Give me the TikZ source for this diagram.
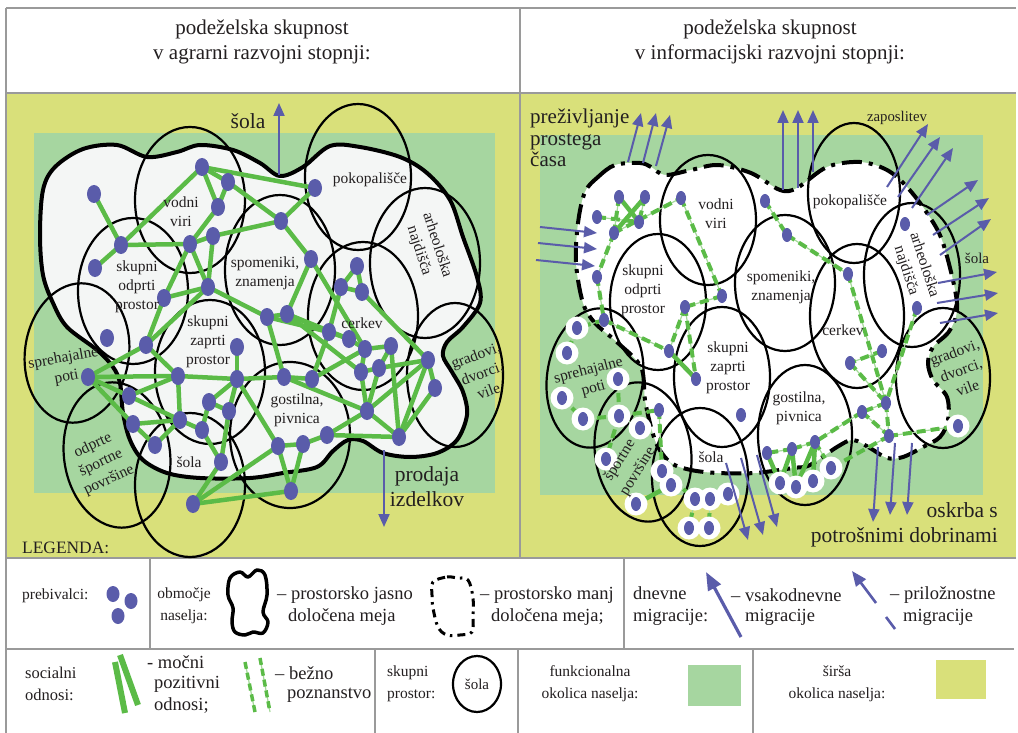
\documentclass[tikz,border=0pt]{standalone}
\usepackage{fontspec}
\setmainfont{Liberation Serif}
\usetikzlibrary{arrows.meta,shapes.geometric}
\definecolor{ybg}{HTML}{D9E07A}
\definecolor{gbg}{HTML}{A6D6A0}
\definecolor{dotb}{HTML}{5A5CAA}
\definecolor{edg}{HTML}{5BBB47}
\definecolor{lgr}{HTML}{9A9A9A}
\definecolor{setl}{HTML}{F4F6F5}
\definecolor{txt}{HTML}{231F20}
\tikzset{
 frameline/.style={draw=lgr, line width=1.2pt},
 sp/.style={draw=black, line width=2.2pt},
 bound/.style={draw=black, line width=4pt, line join=round},
 dbound/.style={draw=black, line width=4pt, dash pattern=on 20pt off 7pt on 4pt off 7pt},
 strong/.style={draw=edg, line width=4.5pt},
 weakbase/.style={draw=edg!55, line width=1.2pt},
 weakdash/.style={draw=edg, line width=4pt, dash pattern=on 9pt off 5pt},
 ldot/.style={ellipse, fill=dotb, minimum width=14pt, minimum height=18pt, inner sep=0pt},
 rdot/.style={ellipse, fill=dotb, minimum width=10pt, minimum height=14pt, inner sep=0pt},
 halo/.style={circle, fill=white, minimum size=23pt, inner sep=0pt},
 mig/.style={draw=dotb, line width=2pt, -{Triangle[length=13pt,width=11pt]}},
 lab/.style={font=\fontsize{15.5}{19}\selectfont, align=center, inner sep=0pt, text=txt},
 bigt/.style={font=\fontsize{21}{25}\selectfont, align=center, inner sep=0pt, text=txt},
 bigl/.style={font=\fontsize{21.5}{25}\selectfont, align=center, inner sep=0pt, text=txt},
 legA/.style={font=\fontsize{15.5}{22}\selectfont, align=left, inner sep=0pt, text=txt},
 legB/.style={font=\fontsize{18.5}{22}\selectfont, inner sep=0pt, anchor=west, text=txt},
}
\begin{document}
\begin{tikzpicture}[x=1pt,y=-1pt]
\useasboundingbox (0,0) rectangle (1018,733);
\fill[white] (0,0) rectangle (1018,733);
% panels
\fill[ybg] (6,93) rectangle (1016,558);
\fill[gbg] (34,133) rectangle (495,493);
\fill[gbg] (540,135) rectangle (983,495);
% frame
\draw[frameline] (6,8) -- (1016,8);
\draw[frameline] (6,8) -- (6,733);
\draw[frameline] (6,93) -- (1016,93);
\draw[frameline] (520,8) -- (520,558);
\draw[frameline] (6,558) -- (1016,558);
\draw[frameline] (6,649) -- (1014,649);
\draw[frameline] (150,558) -- (150,649);
\draw[frameline] (624,558) -- (624,649);
\draw[frameline] (375,649) -- (375,733);
\draw[frameline] (518,649) -- (518,733);
\draw[frameline] (753,649) -- (753,733);
% header
\node[bigt] (h1) at (262,42) {podeželska skupnost\\v agrarni razvojni stopnji:};
\node[bigt] (h2) at (770,42) {podeželska skupnost\\v informacijski razvojni stopnji:};

%================ LEFT PANEL =================
\draw[bound, fill=setl] plot[smooth cycle, tension=0.55] coordinates {
(43,190) (55,167) (83,149) (117,145) (147,157) (177,152) (200,145) (233,150) (260,163) (280,176) (303,167) (330,146) (360,147) (400,157) (427,173) (450,200) (463,237) (477,277) (480,303) (463,327) (447,342) (443,356) (452,372) (463,392) (467,415) (457,440) (437,453) (410,457) (383,453) (363,441) (348,440) (333,451) (317,467) (283,473) (250,478) (200,478) (167,473) (143,460) (130,440) (123,413) (120,383) (113,367) (97,350) (67,327) (53,303) (43,275) (40,235)};

\draw[sp] (190,200) ellipse [x radius=55, y radius=73];
\draw[sp] (133,291) ellipse [x radius=55, y radius=73];
\draw[sp] (280,270) ellipse [x radius=55, y radius=75];
\draw[sp] (358,177) ellipse [x radius=53, y radius=73];
\draw[sp] (425,263) ellipse [x radius=55, y radius=75];
\draw[sp] (363,316) ellipse [x radius=55, y radius=74];
\draw[sp] (210,372) ellipse [x radius=55, y radius=72];
\draw[sp] (290,435) ellipse [x radius=60, y radius=73];
\draw[sp] (455,375) ellipse [x radius=48, y radius=72];
\draw[sp, rotate around={-8:(77,353)}] (77,353) ellipse [x radius=52, y radius=70];
\draw[sp, rotate around={8:(117,455)}] (117,455) ellipse [x radius=53, y radius=73];
\draw[sp] (190,485) ellipse [x radius=55, y radius=72];

\foreach \n/\x/\y in {1/94/194, 2/202/167, 3/228/182, 4/218/207, 5/121/245, 6/190/244, 7/213/236, 8/95/268, 9/208/287, 10/164/298, 11/315/188, 12/281/221, 13/311/259, 14/357/266, 15/341/287, 16/362/292, 17/267/317, 18/287/314, 19/107/338, 20/146/345, 21/237/347, 22/88/377, 23/178/376, 24/237/379, 25/129/396, 26/209/402, 27/229/411, 28/180/420, 29/133/424, 30/202/430, 31/155/445, 32/221/462, 33/193/504, 34/329/332, 35/349/339, 36/365/349, 37/391/346, 38/361/372, 39/379/368, 40/428/360, 41/435/388, 42/284/377, 43/312/379, 44/367/411, 45/399/437, 46/278/446, 47/303/444, 48/327/435, 49/291/491}
  \coordinate (L\n) at (\x,\y);

\foreach \a/\b in {1/5, 5/8, 5/6, 5/2, 2/3, 2/4, 3/4, 2/11, 3/12, 4/6, 6/7, 7/12, 7/9, 6/9, 6/10, 10/9, 9/17, 10/20, 11/12, 12/13, 13/18, 14/15, 14/16, 15/16, 15/34, 16/40, 17/18, 17/34, 18/34, 18/38, 34/35, 35/36, 36/37, 37/39, 36/38, 38/39, 37/45, 39/44, 38/44, 40/41, 40/44, 40/45, 41/45, 44/45, 44/48, 48/47, 47/46, 46/49, 47/49, 48/45, 42/43, 43/34, 42/17, 22/20, 22/23, 22/25, 22/29, 20/23, 20/9, 23/24, 23/25, 23/28, 21/24, 24/26, 24/27, 24/42, 25/28, 29/28, 29/31, 31/28, 28/30, 30/26, 30/32, 27/32, 26/27, 33/32, 33/49, 33/46, 24/46, 43/36, 42/44, 18/35, 13/36, 39/40}
  \draw[strong] (L\a) -- (L\b);

\foreach \n in {1,...,49} \node[ldot] (Ld\n) at (L\n) {};

\node[lab] (tl1) at (181,212) {vodni\\viri};
\node[lab] (tl2) at (137,287) {skupni\\odprti\\prostor};
\node[lab] (tl3) at (265,273) {spomeniki,\\znamenja};
\node[lab] (tl4) at (370,180) {pokopališče};
\node[lab, rotate=-72] (tl5) at (428,248) {arheološka\\najdišča};
\node[lab] (tl6) at (362,323) {cerkev};
\node[lab] (tl7) at (208,342) {skupni\\zaprti\\prostor};
\node[lab] (tl8) at (297,410) {gostilna,\\pivnica};
\node[lab, rotate=20] (tl9) at (482,373) {gradovi,\\dvorci,\\vile};
\node[lab, rotate=10] (tl10) at (65,368) {sprehajalne\\poti};
\node[lab, rotate=25] (tl11) at (101,463) {odprte\\športne\\površine};
\node[lab] (tl12) at (189,462) {šola};

\node[bigl] (tsola) at (248,121) {šola};
\coordinate (as1) at (279,175); \coordinate (ae1) at (279,103);
\draw[mig] (as1) -- (ae1);
\node[bigl] (tprod) at (427,487) {prodaja\\izdelkov};
\coordinate (as2) at (384,450); \coordinate (ae2) at (384,527);
\draw[mig] (as2) -- (ae2);
\node[font=\fontsize{17.4}{20}\selectfont, anchor=west, inner sep=0pt, text=txt] (leg) at (22,548) {LEGENDA:};

%================ RIGHT PANEL =================
\fill[white] plot[smooth cycle, tension=0.55] coordinates {
(585,192) (598,177) (615,165) (640,163) (651,167) (665,175) (691,170) (718,165) (751,173) (780,190) (797,188) (827,167) (860,162) (887,170) (907,187) (927,213) (943,243) (957,303) (950,330) (933,347) (928,363) (933,380) (947,397) (948,420) (940,437) (923,447) (903,457) (887,458) (870,448) (853,440) (837,447) (810,465) (793,468) (755,473) (718,473) (691,470) (671,463) (658,447) (651,427) (645,400) (641,367) (618,343) (595,323) (583,303) (576,263) (578,223)};
\draw[dbound] plot[smooth cycle, tension=0.55] coordinates {
(585,192) (598,177) (615,165) (640,163) (651,167) (665,175) (691,170) (718,165) (751,173) (780,190) (797,188) (827,167) (860,162) (887,170) (907,187) (927,213) (943,243) (957,303) (950,330) (933,347) (928,363) (933,380) (947,397) (948,420) (940,437) (923,447) (903,457) (887,458) (870,448) (853,440) (837,447) (810,465) (793,468) (755,473) (718,473) (691,470) (671,463) (658,447) (651,427) (645,400) (641,367) (618,343) (595,323) (583,303) (576,263) (578,223)};

\draw[sp] (708,220) ellipse [x radius=48, y radius=65];
\draw[sp] (658,302) ellipse [x radius=48, y radius=68];
\draw[sp] (785,283) ellipse [x radius=50, y radius=68];
\draw[sp] (854,193) ellipse [x radius=46, y radius=70];
\draw[sp] (912,275) ellipse [x radius=48, y radius=72];
\draw[sp] (857,316) ellipse [x radius=47, y radius=72];
\draw[sp] (722,377) ellipse [x radius=48, y radius=70];
\draw[sp] (805,435) ellipse [x radius=47, y radius=70];
\draw[sp] (943,378) ellipse [x radius=47, y radius=70];
\draw[sp, rotate around={-8:(595,378)}] (595,378) ellipse [x radius=48, y radius=70];
\draw[sp, rotate around={8:(643,452)}] (643,452) ellipse [x radius=48, y radius=70];
\draw[sp] (700,477) ellipse [x radius=48, y radius=69];

\foreach \n/\x/\y in {1/619/197, 2/645/197, 3/597/217, 4/639/222, 5/614/233, 6/681/198, 7/597/277, 8/722/296, 9/685/307, 10/604/320, 11/765/201, 12/787/235, 13/848/274, 14/905/224, 15/917/308, 16/669/351, 17/696/379, 18/741/415, 19/659/410, 20/882/351, 21/850/363, 22/886/403, 23/862/412, 24/889/436, 25/815/442, 26/792/449, 27/767/453}
  \coordinate (R\n) at (\x,\y);
\foreach \n/\x/\y in {1/577/328, 2/567/353, 3/618/379, 4/562/398, 5/583/419, 6/619/416, 7/640/428, 8/606/459, 9/662/471, 10/671/485, 11/636/504, 12/695/499, 13/710/499, 14/728/494, 15/689/528, 16/709/528, 17/958/426, 18/831/468, 19/780/483, 20/796/487, 21/813/481}
  \coordinate (H\n) at (\x,\y);

\foreach \a/\b in {R2/R4, R3/R4, R1/R5, R5/R6, R5/R7, R7/R10, R6/R8, R8/R9, R9/R16, R9/R17, R10/R16, R10/H1, H1/H2, H3/H6, H4/H5, H5/H6, H6/R19, H6/H7, H6/H8, R19/H9, H9/H10, H9/H12, H12/H13, H13/H14, H12/H15, H15/H16, H13/H16, R11/R12, R12/R13, R13/R22, R15/R22, R20/R21, R21/R22, R22/R23, R22/R24, R23/R24, R23/R25, R24/H17, R24/H18, R25/R26, R26/R27, R25/H18}
  {\draw[weakbase] (\a) -- (\b); \draw[weakdash] (\a) -- (\b);}
\foreach \a/\b in {R1/R4, R2/R5, R16/R17, H10/H11, H19/R27, H19/R26, H20/R26, H20/R25, H21/R25}
  \draw[strong] (\a) -- (\b);

\foreach \n in {1,...,21} \node[halo] (Hh\n) at (H\n) {};
\foreach \n in {1,...,21} \node[rdot] (Hd\n) at (H\n) {};
\foreach \n in {1,...,27} \node[rdot] (Rd\n) at (R\n) {};

\node[lab] (tr1) at (716,214) {vodni\\viri};
\node[lab] (tr2) at (643,291) {skupni\\odprti\\prostor};
\node[lab] (tr3) at (781,287) {spomeniki,\\znamenja};
\node[lab] (tr4) at (850,202) {pokopališče};
\node[lab, rotate=-72] (tr5) at (915,268) {arheološka\\najdišča};
\node[lab] (tr6) at (843,330) {cerkev};
\node[lab] (tr7) at (728,368) {skupni\\zaprti\\prostor};
\node[lab] (tr8) at (799,408) {gostilna,\\pivnica};
\node[lab, rotate=20] (tr9) at (961,370) {gradovi,\\dvorci,\\vile};
\node[lab, rotate=15] (tr10) at (591,380) {sprehajalne\\poti};
\node[lab, rotate=58, font=\fontsize{15.5}{21}\selectfont] (tr11) at (629,466) {športne\\površine};
\node[lab] (tr12) at (711,457) {šola};

\node[font=\fontsize{21}{21.5}\selectfont, align=left, anchor=west, inner sep=0pt, text=txt] (tpre) at (530,138) {preživljanje\\prostega\\časa};
\node[font=\fontsize{14.8}{18}\selectfont, inner sep=0pt, text=txt] (tzap) at (897,118) {zaposlitev};
\node[font=\fontsize{15}{18}\selectfont, inner sep=0pt, text=txt] (tsr) at (977,258) {šola};
\node[font=\fontsize{21.5}{25}\selectfont, align=right, anchor=east, inner sep=0pt, text=txt] (tosk) at (998,525) {oskrba s\\potrošnimi dobrinami};

% migration arrows right
\foreach \i/\sx/\sy/\ex/\ey in {1/628/162/641/113, 2/643/163/656/113, 3/656/166/670/115,
 4/540/227/597/233, 5/538/243/597/249, 6/536/260/595/266,
 7/783/190/783/110, 8/798/188/798/110, 9/813/172/813/110,
 10/887/187/928/124, 11/898/197/940/137, 12/912/208/953/148,
 13/927/215/978/180, 14/933/235/989/198, 15/940/255/991/219,
 16/938/283/997/272, 17/937/303/998/293, 18/940/323/998/313,
 19/878/447/873/522, 20/895/443/890/515, 21/912/443/907/515,
 22/726/463/748/540, 23/741/458/763/535, 24/757/455/777/527}
 {\coordinate (ms\i) at (\sx,\sy); \coordinate (me\i) at (\ex,\ey); \draw[mig] (ms\i) -- (me\i);}

%================ LEGEND =================
\node[legA, anchor=west] (lg1) at (22,596) {prebivalci:};
\node[ldot, minimum width=13pt, minimum height=16pt] (lgd1) at (113,594) {};
\node[ldot, minimum width=13pt, minimum height=16pt] (lgd2) at (131,601) {};
\node[ldot, minimum width=13pt, minimum height=16pt] (lgd3) at (118,616) {};

\node[legA, align=center] (lg2) at (184,606) {območje\\naselja:};
\draw[line width=3.5pt, line join=round] plot[smooth cycle, tension=0.6] coordinates {(230,578) (240,572) (248,577) (257,570) (265,575) (267,595) (263,612) (268,622) (263,633) (253,632) (245,635) (235,632) (232,622) (233,608) (228,595)};
\node[legB] (lg3) at (277,595) {– prostorsko jasno};
\node[legB] (lg4) at (288,617) {določena meja};
\draw[line width=3pt, dash pattern=on 8pt off 5pt on 2.5pt off 5pt] plot[smooth cycle, tension=0.6] coordinates {(433,582) (447,577) (457,578) (468,580) (473,598) (473,618) (472,632) (460,635) (447,635) (438,627) (433,608) (432,595)};
\node[legB] (lg5) at (480,595) {– prostorsko manj};
\node[legB] (lg6) at (491,617) {določena meja;};

\node[legB, align=left] (lg7) at (633,606) {dnevne\\migracije:};
\coordinate (lms1) at (741,637); \coordinate (lme1) at (706,572);
\draw[draw=dotb, line width=3.2pt, -{Triangle[length=18pt,width=14pt]}] (lms1) -- (lme1);
\node[legB] (lg8) at (731,595) {– vsakodnevne};
\node[legB] (lg9) at (745,617) {migracije};
\coordinate (lms2) at (876,603); \coordinate (lme2) at (852,571);
\draw[draw=dotb, line width=2.6pt, -{Triangle[length=15pt,width=12pt]}] (lms2) -- (lme2);
\coordinate (lms3) at (886,617); \coordinate (lme3) at (895,629);
\draw[draw=dotb, line width=2.6pt] (lms3) -- (lme3);
\node[legB] (lg10) at (890,595) {– priložnostne};
\node[legB] (lg11) at (903,617) {migracije};

\node[legA, anchor=west, font=\fontsize{16.5}{22}\selectfont] (lg12) at (25,684) {socialni\\odnosi:};
\coordinate (sb1a) at (115,662); \coordinate (sb1b) at (125,713);
\coordinate (sb2a) at (120,655); \coordinate (sb2b) at (138,705);
\draw[draw=edg, line width=6pt] (sb1a) -- (sb1b);
\draw[draw=edg, line width=6pt] (sb2a) -- (sb2b);
\node[legB, font=\fontsize{18.5}{21}\selectfont] (lg13) at (147,662) {- močni};
\node[legB, font=\fontsize{18.5}{21}\selectfont] (lg14) at (154,684) {pozitivni};
\node[legB, font=\fontsize{18.5}{21}\selectfont] (lg15) at (154,705) {odnosi;};
\coordinate (wb1a) at (245,662); \coordinate (wb1b) at (255,712);
\coordinate (wb2a) at (260,658); \coordinate (wb2b) at (270,712);
\draw[weakbase] (wb1a) -- (wb1b); \draw[draw=edg, line width=3.5pt, dash pattern=on 7pt off 4pt] (wb1a) -- (wb1b);
\draw[weakbase] (wb2a) -- (wb2b); \draw[draw=edg, line width=3.5pt, dash pattern=on 7pt off 4pt] (wb2a) -- (wb2b);
\node[legB] (lg16) at (275,673) {– bežno};
\node[legB] (lg17) at (287,695) {poznanstvo};

\node[legA, anchor=west] (lg18) at (387,684) {skupni\\prostor:};
\node[draw=black, line width=2.2pt, ellipse, minimum width=48pt, minimum height=56pt, inner sep=0pt, font=\fontsize{15}{16}\selectfont, text=txt] (lg19) at (477,684) {šola};

\node[legA, align=center] (lg20) at (590,684) {funkcionalna\\okolica naselja:};
\fill[gbg] (688,665) rectangle (741,706);
\node[legA, align=center] (lg21) at (837,684) {širša\\okolica naselja:};
\fill[ybg] (936,660) rectangle (986,699);
\end{tikzpicture}
\end{document}
